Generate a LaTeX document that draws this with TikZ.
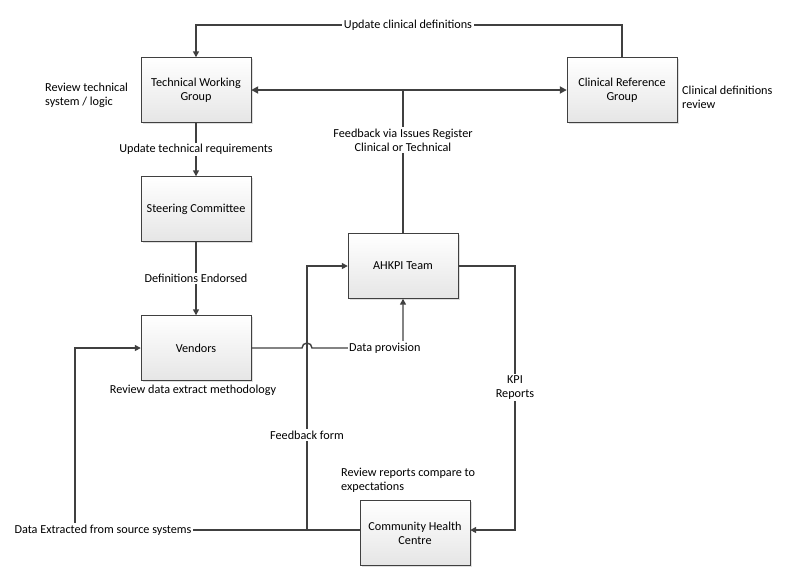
\documentclass[tikz,border=0pt]{standalone}
\usepackage{fontspec}
\setmainfont{Carlito}
\usetikzlibrary{arrows.meta,shadows}
\definecolor{linegrey}{HTML}{404040}
\begin{document}
\begin{tikzpicture}[x=1pt,y=-1pt,font=\fontsize{12.2}{14}\selectfont,
  box/.style={draw=linegrey,thin,minimum width=110pt,minimum height=65pt,
    top color=white,bottom color=black!10,align=center,
    drop shadow={shadow xshift=1.5pt,shadow yshift=-1.5pt,opacity=0.25}},
  conn/.style={draw=linegrey,line width=1.4pt,-{Triangle[length=6pt,width=6pt]}},
  lbl/.style={fill=white,inner sep=1.5pt,align=center},
  note/.style={align=left,inner sep=0pt}]
  \useasboundingbox (0,0) rectangle (786,582);
  % boxes
  \node[box] (twg) at (196,90) {Technical Working\\Group};
  \node[box] (crg) at (622,90) {Clinical Reference\\Group};
  \node[box] (sc) at (196,209) {Steering Committee};
  \node[box] (ven) at (196,348) {Vendors};
  \node[box] (ahk) at (403,266) {AHKPI Team};
  \node[box] (chc) at (415,533) {Community Health\\Centre};
  \coordinate (top) at (403,90);
  \coordinate (dp) at (403,348);
  \coordinate (src) at (75,530);
  \coordinate (fb) at (307,530);
  \coordinate (kpi) at (515,266);
  % connectors
  \draw[conn] (crg.north) |- (408,25) node[lbl] {Update clinical definitions} -| (twg.north);
  \draw[conn,{Triangle[length=7pt,width=7pt]}-{Triangle[length=7pt,width=7pt]},line width=2.2pt] (twg.east) -- (crg.west);
  \draw[conn,-] (ahk.north) -- node[lbl,pos=0.65] {Feedback via Issues Register\\Clinical or Technical} (top);
  \draw[conn] (twg) -- node[lbl] {Update technical requirements} (sc);
  \draw[conn] (sc) -- node[lbl] {Definitions Endorsed} (ven);
  \draw[conn] (ven.east) -- (302,348) arc[start angle=180,end angle=0,radius=5pt]
    -- node[lbl,pos=0.8] {Data provision} (dp) -- (ahk.south);
  \draw[conn] (chc.west |- src) -- (src) -- (75,348) -- (ven.west);
  \node[lbl] at (103,530) {Data Extracted from source systems};
  \draw[conn] (fb) |- node[lbl,pos=0.18] {Feedback form} (ahk.west);
  \draw[conn] (ahk.east) -- (kpi) |- node[lbl,pos=0.23] {KPI\\Reports} (chc.east |- src);
  % notes
  \node[note,anchor=west] at (45,95) {Review technical\\system / logic};
  \node[note,anchor=west] at (682,97) {Clinical definitions\\review};
  \node[note] at (193,390) {Review data extract methodology};
  \node[note,anchor=west] at (341,480) {Review reports compare to\\expectations};
\end{tikzpicture}
\end{document}
